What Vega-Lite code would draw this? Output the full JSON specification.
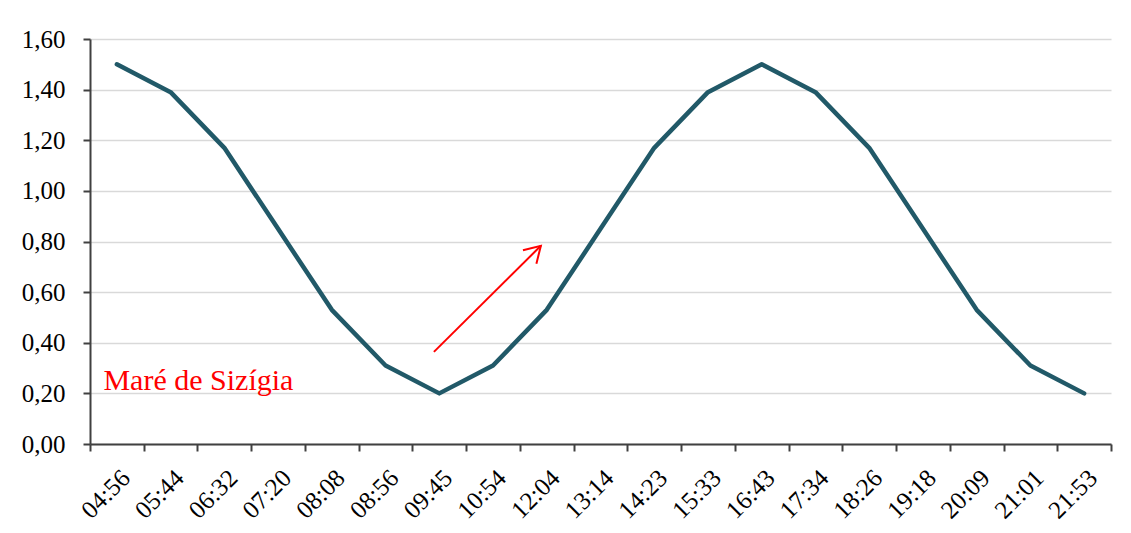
{
  "$schema": "https://vega.github.io/schema/vega-lite/v6.json",
  "width": 1021,
  "height": 405,
  "autosize": {"type": "none"},
  "padding": {"left": 90, "top": 39, "right": 20, "bottom": 89},
  "background": "white",
  "config": {
    "view": {"stroke": null},
    "axis": {
      "labelFont": "Liberation Serif",
      "labelFontSize": 25,
      "labelColor": "#000000",
      "domainColor": "#404040",
      "domainWidth": 2,
      "tickColor": "#404040",
      "tickWidth": 2,
      "tickSize": 7,
      "title": null
    }
  },
  "datasets": {
    "tide": [
      {"hora": "04:56", "altura": 1.50},
      {"hora": "05:44", "altura": 1.39},
      {"hora": "06:32", "altura": 1.17},
      {"hora": "07:20", "altura": 0.85},
      {"hora": "08:08", "altura": 0.53},
      {"hora": "08:56", "altura": 0.31},
      {"hora": "09:45", "altura": 0.20},
      {"hora": "10:54", "altura": 0.31},
      {"hora": "12:04", "altura": 0.53},
      {"hora": "13:14", "altura": 0.85},
      {"hora": "14:23", "altura": 1.17},
      {"hora": "15:33", "altura": 1.39},
      {"hora": "16:43", "altura": 1.50},
      {"hora": "17:34", "altura": 1.39},
      {"hora": "18:26", "altura": 1.17},
      {"hora": "19:18", "altura": 0.85},
      {"hora": "20:09", "altura": 0.53},
      {"hora": "21:01", "altura": 0.31},
      {"hora": "21:53", "altura": 0.20}
    ],
    "arrow": [
      {"x0": 6.40, "y0": 0.364, "x1": 8.39, "y1": 0.783}
    ],
    "label": [
      {"x": 0.25, "y": 0.213, "texto": "Maré de Sizígia"}
    ]
  },
  "layer": [
    {
      "data": {"name": "tide"},
      "mark": {"type": "line", "color": "#215968", "strokeWidth": 4.5, "strokeJoin": "round", "strokeCap": "round"},
      "encoding": {
        "x": {
          "field": "hora",
          "type": "ordinal",
          "sort": null,
          "title": null,
          "scale": {"type": "band", "paddingInner": 0, "paddingOuter": 0},
          "axis": {"tickBand": "extent", "labelAngle": -45, "labelPadding": 14, "grid": false}
        },
        "y": {
          "field": "altura",
          "type": "quantitative",
          "title": null,
          "scale": {"domain": [0, 1.6], "nice": false},
          "axis": {
            "values": [0, 0.2, 0.4, 0.6, 0.8, 1.0, 1.2, 1.4, 1.6],
            "labelExpr": "replace(format(datum.value, '.2f'), '.', ',')",
            "labelPadding": 18,
            "grid": true,
            "gridColor": "#d9d9d9",
            "gridWidth": 1.5
          }
        }
      }
    },
    {
      "layer": [
        {
          "data": {"name": "arrow"},
          "mark": {"type": "rule", "color": "#ff0000", "strokeWidth": 2},
          "encoding": {
            "x": {"field": "x0", "type": "quantitative", "title": null, "scale": {"domain": [0, 19], "nice": false, "zero": false}, "axis": null},
            "x2": {"field": "x1"},
            "y": {"field": "y0", "type": "quantitative", "title": null},
            "y2": {"field": "y1"}
          }
        },
        {
          "data": {"name": "arrow"},
          "mark": {"type": "point", "shape": "M -0.6 1 L 0 0 L 0.6 1", "filled": false, "color": "#ff0000", "strokeWidth": 2, "size": 1000, "angle": 45, "opacity": 1},
          "encoding": {
            "x": {"field": "x1", "type": "quantitative", "title": null, "scale": {"domain": [0, 19], "nice": false, "zero": false}, "axis": null},
            "y": {"field": "y1", "type": "quantitative", "title": null}
          }
        },
        {
          "data": {"name": "label"},
          "mark": {"type": "text", "color": "#ff0000", "font": "Liberation Serif", "fontSize": 30, "align": "left", "baseline": "alphabetic"},
          "encoding": {
            "x": {"field": "x", "type": "quantitative", "title": null, "scale": {"domain": [0, 19], "nice": false, "zero": false}, "axis": null},
            "y": {"field": "y", "type": "quantitative", "title": null},
            "text": {"field": "texto"}
          }
        }
      ]
    }
  ],
  "resolve": {"scale": {"x": "independent"}, "axis": {"x": "independent"}}
}
